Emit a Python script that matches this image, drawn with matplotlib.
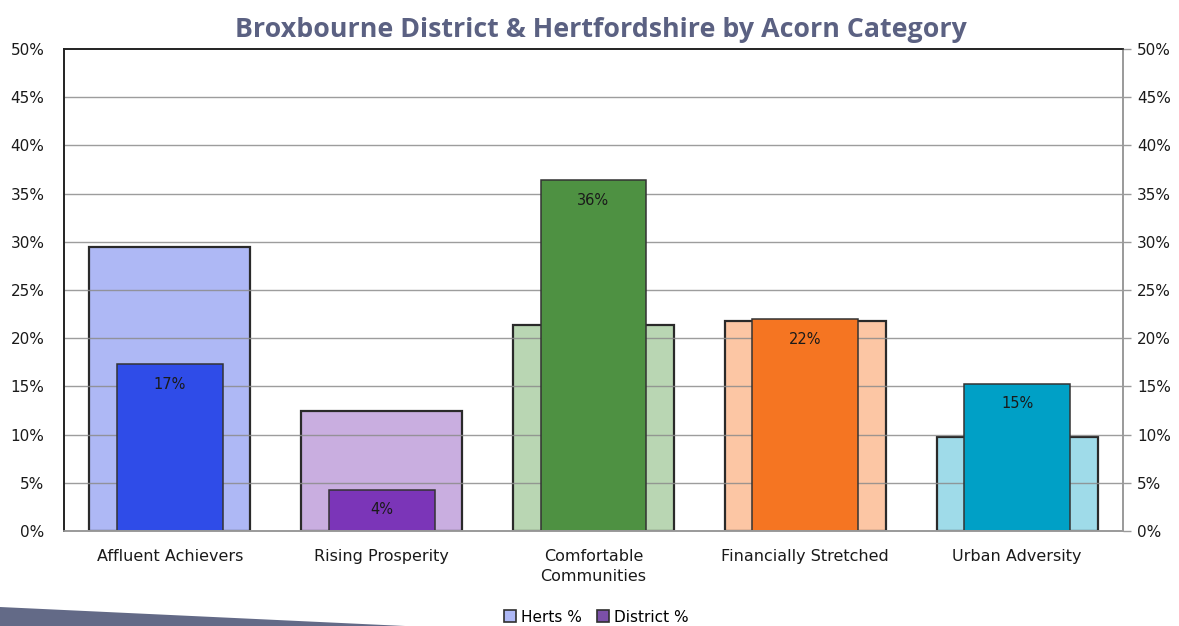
import numpy as np
import matplotlib.pyplot as plt
from matplotlib.patches import Polygon, Patch
from matplotlib.ticker import PercentFormatter

plt.rcParams['font.family'] = ['DejaVu Sans']

categories = ['Affluent Achievers', 'Rising Prosperity', 'Comfortable\nCommunities',
              'Financially Stretched', 'Urban Adversity']
herts = [29.5, 12.5, 21.4, 21.8, 9.7]
district = [17.3, 4.3, 36.4, 22.0, 15.3]
district_labels = ['17%', '4%', '36%', '22%', '15%']

herts_colors = ['#aeb8f5', '#c9aee0', '#b9d6b3', '#fcc6a4', '#9fdbe9']
district_colors = ['#2f4ce8', '#7b35b8', '#4e9142', '#f57522', '#00a0c6']

yticks = np.arange(0, 51, 5)

fig = plt.figure(figsize=(11.79, 6.26), dpi=100)
ax = fig.add_axes([64/1179, 1-531/626, (1123-64)/1179, (531-49)/626])

x = np.arange(len(categories))
# herts bars sit under the grid, district bars on top of it
ax.bar(x, herts, width=0.76, color=herts_colors, edgecolor='#2a2a2a', linewidth=1.6, zorder=1)
ax.hlines(yticks[1:-1], -0.5, 4.5, colors='#8c8c8c', linewidth=1.0, zorder=1.5, alpha=0.85)
bars = ax.bar(x, district, width=0.5, color=district_colors, edgecolor='#333333', linewidth=1.1, zorder=2)

for b, lab in zip(bars, district_labels):
    ax.annotate(lab, (b.get_x() + b.get_width()/2, b.get_height()), xytext=(0, -14.5),
                textcoords='offset points', ha='center', va='center', fontsize=10.5,
                color='#1a1a1a', zorder=3)

ax.set_xlim(-0.5, 4.5)
ax.set_ylim(0, 50)
ax.set_yticks(yticks)
ax.yaxis.set_major_formatter(PercentFormatter(decimals=0))
ax.set_xticks(x)
ax.set_xticklabels(categories, fontsize=11.5, color='#1a1a1a', linespacing=1.45)
ax.tick_params(axis='x', length=0, pad=13)
ax.tick_params(axis='y', length=0, pad=14, labelsize=11, labelcolor='#1a1a1a')

ax2 = ax.twinx()
ax2.set_ylim(0, 50)
ax2.set_yticks(yticks)
ax2.yaxis.set_major_formatter(PercentFormatter(decimals=0))
ax2.tick_params(axis='y', length=6, width=1, color='#9a9a9a', pad=4, labelsize=11,
                labelcolor='#1a1a1a')

for a in (ax, ax2):
    a.spines['left'].set_color('#222222')
    a.spines['top'].set_color('#222222')
    a.spines['bottom'].set_color('#9a9a9a')
    a.spines['right'].set_color('#9a9a9a')
    for s in a.spines.values():
        s.set_linewidth(1.2)

fig.text(601/1179, 1-30/626, 'Broxbourne District & Hertfordshire by Acorn Category',
         ha='center', va='center', fontsize=19.3, fontweight='bold', color='#5b6182',
         family='Open Sans')

handles = [Patch(facecolor='#aeb8f5', edgecolor='#303030', linewidth=1.2, label='Herts %'),
           Patch(facecolor='#7b50a8', edgecolor='#303030', linewidth=1.2, label='District %')]
fig.legend(handles=handles, loc='center', bbox_to_anchor=(596/1179, 1-617/626), ncol=2,
           frameon=False, fontsize=11, handlelength=0.8, handleheight=0.8,
           handletextpad=0.3, columnspacing=1.0, borderpad=0)

poly = Polygon([[0, 1-607/626], [405/1179, 0], [0, 0]], closed=True,
               transform=fig.transFigure, facecolor='#636a87', edgecolor='none')
fig.patches.append(poly)

fig.savefig('out.png', dpi=100)
